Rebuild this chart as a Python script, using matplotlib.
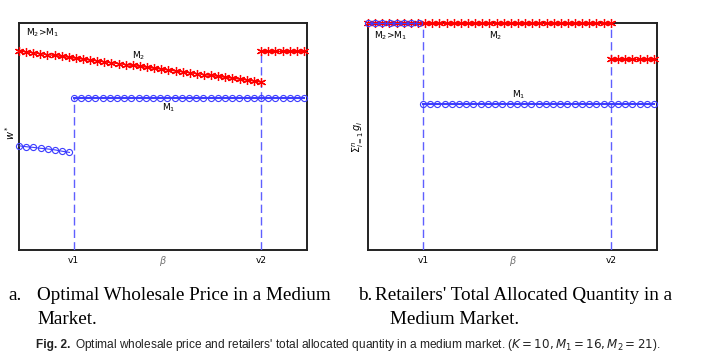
import numpy as np
import matplotlib
matplotlib.use('Agg')
import matplotlib.pyplot as plt

# --- datos (eje x en pasos de beta, eje y normalizado) ---
v1 = 7.6
v2 = 33.6

# panel a: precio mayorista optimo w*
w_m2_seg1 = [0.877, 0.873, 0.869, 0.865, 0.861, 0.857, 0.853, 0.849, 0.845, 0.841,
             0.837, 0.833, 0.829, 0.825, 0.821, 0.817, 0.813, 0.809, 0.805, 0.801,
             0.797, 0.793, 0.789, 0.785, 0.781, 0.777, 0.773, 0.769, 0.765, 0.761,
             0.757, 0.753, 0.749, 0.745, 0.740]
w_m2_seg2 = [0.877] * 7
w_m1_low = [0.459, 0.455, 0.452, 0.448, 0.445, 0.441, 0.435, 0.430]
w_m1_high = [0.668] * 33

# panel b: cantidad total asignada
q_m2_seg1 = [1.0] * 35
q_m2_seg2 = [0.840] * 7
q_m1_low = [1.0] * 8
q_m1_high = [0.643] * 33

x_seg1 = np.linspace(0, v2, len(w_m2_seg1))
x_seg2 = v2 + np.arange(len(w_m2_seg2))
x_low = np.arange(len(w_m1_low))
x_high = v1 + np.arange(len(w_m1_high))

RED = '#ff0000'
BLUE = '#3c3cff'
DASH = '#5f5fff'
star = (6, 2, 0)

fig = plt.figure(figsize=(7.06, 3.59), dpi=100)
ax_a = fig.add_axes([19 / 706, 109 / 359, 288 / 706, 227 / 359])
ax_b = fig.add_axes([368 / 706, 109 / 359, 289 / 706, 227 / 359])


def estilo(ax):
    ax.set_xlim(0, 40)
    ax.set_ylim(0, 1)
    ax.set_yticks([])
    ax.set_xticks([v1, v2])
    ax.set_xticklabels(['v1', 'v2'], fontsize=6.5)
    ax.tick_params(axis='x', length=0, pad=4)
    for s in ax.spines.values():
        s.set_linewidth(1.4)
        s.set_color('#222222')
    ax.text(20, -0.018, r'$\beta$', fontsize=7, color='#777777', ha='center', va='top')


def curvas(ax, m2a, m2b, m1a, m1b, linea_m1):
    ax.plot(x_seg1, m2a, '-', color=RED, lw=1.0, marker=star, ms=6.5, mew=0.9, clip_on=False, zorder=4)
    ax.plot(x_seg2, m2b, '-', color=RED, lw=1.0, marker=star, ms=6.5, mew=0.9, clip_on=False, zorder=4)
    ax.plot(x_low, m1a, linea_m1, color=BLUE, lw=0.8, marker='o', ms=4.4, mfc='none',
            mew=0.8, clip_on=False, zorder=5)
    ax.plot(x_high, m1b, 'none', color=BLUE, marker='o', ms=4.4, mfc='none', mew=0.8,
            clip_on=False, zorder=5)


# --- panel a ---
estilo(ax_a)
curvas(ax_a, w_m2_seg1, w_m2_seg2, w_m1_low, w_m1_high, '-')
ax_a.vlines(v1, 0, w_m1_high[0], colors=DASH, linestyles=(0, (6, 3)), lw=1.0, zorder=3)
ax_a.vlines(v2, 0, w_m2_seg2[0], colors=DASH, linestyles=(0, (6, 3)), lw=1.0, zorder=3)
ax_a.text(1.0, 0.955, r'M$_2$>M$_1$', fontsize=6.5, va='center')
ax_a.text(15.7, 0.855, r'M$_2$', fontsize=6.5, va='center')
ax_a.text(19.8, 0.625, r'M$_1$', fontsize=6.5, va='center')
fig.text(10 / 706, 1 - 133 / 359, r'$w^*$', fontsize=7, rotation=90, ha='center', va='center')

# --- panel b ---
estilo(ax_b)
curvas(ax_b, q_m2_seg1, q_m2_seg2, q_m1_low, q_m1_high, 'none')
ax_b.vlines(v1, 0, 1, colors=DASH, linestyles=(0, (6, 3)), lw=1.0, zorder=3)
ax_b.vlines(v2, 0, 1, colors=DASH, linestyles=(0, (6, 3)), lw=1.0, zorder=3)
ax_b.text(0.8, 0.945, r'M$_2$>M$_1$', fontsize=6.5, va='center')
ax_b.text(16.8, 0.945, r'M$_2$', fontsize=6.5, va='center')
ax_b.text(20.0, 0.685, r'M$_1$', fontsize=6.5, va='center')
fig.text(358 / 706, 1 - 137 / 359, r'$\Sigma_{i=1}^{n}\, g_i$', fontsize=7, rotation=90,
         ha='center', va='center')

# --- subtitulos y pie de figura ---
serif = ['Liberation Serif', 'DejaVu Serif']
fs = 13.8
fig.text(8 / 706, 1 - 295 / 359, 'a.', fontsize=fs, family=serif, va='center')
fig.text(37 / 706, 1 - 295 / 359, 'Optimal Wholesale Price in a Medium', fontsize=fs, family=serif, va='center')
fig.text(37 / 706, 1 - 320 / 359, 'Market.', fontsize=fs, family=serif, va='center')
fig.text(358 / 706, 1 - 295 / 359, 'b.', fontsize=fs, family=serif, va='center')
fig.text(375 / 706, 1 - 295 / 359, "Retailers' Total Allocated Quantity in a", fontsize=fs, family=serif, va='center')
fig.text(390 / 706, 1 - 320 / 359, 'Medium Market.', fontsize=fs, family=serif, va='center')

sans = ['Liberation Sans', 'DejaVu Sans']
fig.text(36 / 706, 1 - 345 / 359, 'Fig. 2.', fontsize=8.6, family=sans, fontweight='bold',
         va='center', color='#222222')
fig.text(75 / 706, 1 - 345 / 359,
         "Optimal wholesale price and retailers' total allocated quantity in a medium market. "
         r'($K=10,M_1=16,M_2=21$).',
         fontsize=8.6, family=sans, va='center', color='#222222')

fig.savefig('out.png', dpi=100)
